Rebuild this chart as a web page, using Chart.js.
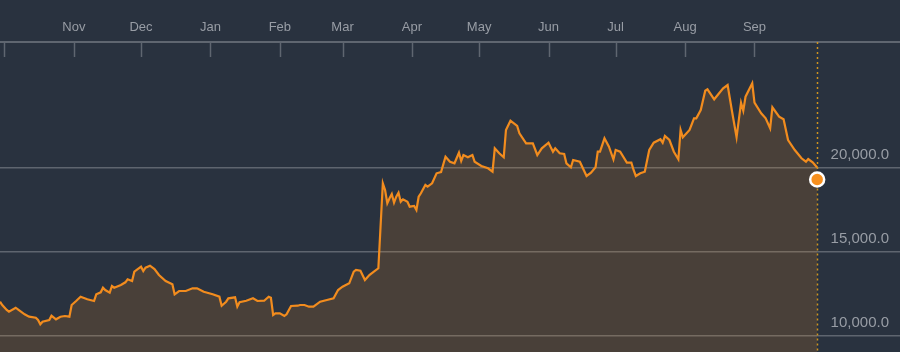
<!DOCTYPE html>
<html>
<head>
<meta charset="utf-8">
<script src="https://cdn.jsdelivr.net/npm/chart.js@4"></script>
<style>
    html, body { margin: 0; padding: 0; background: #29323f; }
    #wrap { width: 900px; height: 352px; position: relative; }
</style>
</head>
<body>
<div id="wrap"><canvas id="chart"></canvas></div>
<script>
// month ticks (days counted from 1 Nov)
const monthLabels = ['Oct', 'Nov', 'Dec', 'Jan', 'Feb', 'Mar', 'Apr', 'May', 'Jun', 'Jul', 'Aug', 'Sep'];
const monthStartDays = [-31, 0, 30, 61, 92, 120, 151, 181, 212, 242, 273, 304];

const yTickValues = [10000, 15000, 20000];

// price history
const dayIndex = [
    -33, -32, -30, -29, -26, -25, -22, -20, -17, -16, -15, -14, -11, -10, -8, -6, -4, -2, -1,
    1, 3, 6, 9, 10, 12, 13, 14, 16, 17, 18, 21, 23, 24, 26, 27, 30, 31, 32, 34, 36, 38,
    41, 44, 45, 47, 50, 53, 55, 58, 62, 65, 66, 68, 69, 72, 73, 74, 77, 80, 82, 85, 87, 88,
    89, 90, 92, 94, 95, 97, 100, 101, 103, 105, 107, 110, 113, 116, 118, 120, 123, 125, 126,
    128, 130, 132, 134, 136, 138, 139, 140, 141, 142, 143, 144, 145, 146, 147, 149, 150,
    152, 153, 154, 155, 157, 158, 160, 162, 164, 166, 168, 170, 172, 173, 174, 176, 178,
    179, 182, 185, 187, 188, 190, 192, 193, 195, 198, 199, 202, 205, 207, 209, 212, 214,
    215, 217, 219, 220, 222, 223, 226, 229, 231, 233, 234, 235, 237, 239, 241, 242, 244,
    247, 249, 250, 251, 253, 255, 257, 259, 262, 263, 264, 266, 268, 270, 271, 272, 275,
    277, 278, 280, 282, 283, 286, 290, 292, 294, 296, 298, 299, 300, 303, 304, 307, 309,
    311, 312, 315, 317, 319, 322, 325, 327, 328, 330, 332
];
const prices = [
    12012, 11815, 11518, 11417, 11655, 11559, 11262, 11119, 11060, 10923, 10667, 10821, 10923, 11179, 10964, 11119, 11161, 11119, 11815,
    12054, 12310, 12155, 12054, 12452, 12571, 12845, 12708, 12548, 12946, 12845, 13006, 13167, 13345, 13244, 13798, 14095, 13839, 14036, 14155, 13958, 13601,
    13244, 13048, 12452, 12649, 12649, 12810, 12810, 12607, 12452, 12310, 11774, 12012, 12214, 12274, 11714, 11976, 12071, 12214, 12054, 12071, 12310, 12250,
    11220, 11321, 11321, 11161, 11262, 11756, 11774, 11815, 11815, 11714, 11714, 12012, 12113, 12214, 12708, 12905, 13107, 13798, 13899,
    13857, 13304, 13601, 13798, 14000, 19060, 18661, 17869, 18167, 18423, 17905, 18262, 18500, 17964, 18107, 17964, 17667,
    17708, 17470, 18262, 18464, 18958, 18857, 19060, 19655, 19732, 20643, 20345, 20250, 20881, 20387, 20744, 20607, 20744,
    20345, 20089, 19952, 19750, 21143, 20845, 20607, 22232, 22786, 22470, 22036, 21440, 21440, 20744, 21143, 21476, 20940,
    21143, 20845, 20804, 20250, 20012, 20446, 20345, 19494, 19690, 20012, 20940, 20940, 21738, 21238, 20488, 21042, 20940,
    20286, 20286, 19851, 19494, 19655, 19750, 21042, 21476, 21679, 21476, 21875, 21637, 20940, 20488, 22232, 21798, 22232,
    22929, 22929, 23423, 24571, 24655, 24060, 24714, 24911, 23321, 21798, 23857, 23381, 24214, 25012, 23857, 23226, 22929,
    22333, 23583, 23024, 22869, 21637, 21042, 20548, 20345, 20506, 20310, 20000
];

const lastDay = 332;
const lastPrice = 19286;

const xMin = -33;
const xMax = 369;
const yMin = 9018;
const yMax = 27470;

const LINE_COLOR = '#f28c1e';
const TEXT_COLOR = '#989da5';
const AXIS_COLOR = '#5f6670';
const FONT = "'Liberation Sans', Arial, sans-serif";

// short tick marks hanging down from the top axis, plus the dotted "now" line
const axisDecor = {
    id: 'axisDecor',
    beforeDatasetsDraw(chart) {
        const { ctx, chartArea, scales } = chart;
        const xs = scales.x;
        ctx.save();
        ctx.strokeStyle = AXIS_COLOR;
        ctx.lineWidth = 1.5;
        xs.ticks.forEach(t => {
            const px = Math.round(xs.getPixelForValue(t.value)) + 0.5;
            ctx.beginPath();
            ctx.moveTo(px, chartArea.top);
            ctx.lineTo(px, chartArea.top + 15);
            ctx.stroke();
        });
        ctx.restore();
    },
    afterDatasetsDraw(chart) {
        const { ctx, chartArea, scales } = chart;
        const nx = Math.round(scales.x.getPixelForValue(lastDay)) + 0.5;
        const dotY = scales.y.getPixelForValue(lastPrice);
        ctx.save();
        ctx.strokeStyle = '#d0941f';
        ctx.lineWidth = 1.5;
        ctx.setLineDash([2, 3]);
        ctx.beginPath();
        ctx.moveTo(nx, chartArea.top);
        ctx.lineTo(nx, dotY - 9);
        ctx.moveTo(nx, dotY + 9);
        ctx.lineTo(nx, chartArea.bottom);
        ctx.stroke();
        ctx.restore();
    }
};

function formatPrice(v) {
    return v.toLocaleString('en-US', { minimumFractionDigits: 1, maximumFractionDigits: 1 });
}

// the chart area should fill the whole canvas width and run to the bottom edge
function noPadding(scale) {
    scale.paddingTop = 0;
    scale.paddingBottom = 0;
    scale.paddingLeft = 0;
    scale.paddingRight = 0;
}

const ctx = document.getElementById('chart');
new Chart(ctx, {
    type: 'line',
    data: {
        datasets: [
            {
                data: [{ x: lastDay, y: lastPrice }],
                showLine: false,
                pointRadius: 7,
                pointBorderWidth: 2.5,
                pointBackgroundColor: '#f7901e',
                pointBorderColor: '#ffffff',
                clip: false,
                order: 0
            },
            {
                data: dayIndex.map((d, i) => ({ x: d, y: prices[i] })),
                borderColor: LINE_COLOR,
                borderWidth: 2.2,
                backgroundColor: 'rgba(242, 140, 30, 0.16)',
                fill: 'start',
                tension: 0,
                pointRadius: 0,
                order: 1
            }
        ]
    },
    options: {
        responsive: true,
        maintainAspectRatio: false,
        animation: false,
        layout: { padding: 0, autoPadding: false },
        scales: {
            x: {
                type: 'linear',
                position: 'top',
                min: xMin,
                max: xMax,
                afterBuildTicks: scale => {
                    scale.ticks = monthStartDays.map(v => ({ value: v }));
                },
                afterFit: scale => {
                    scale.height = 42;
                    noPadding(scale);
                },
                grid: { display: false, drawTicks: false },
                border: { display: true, color: AXIS_COLOR, width: 2 },
                ticks: {
                    autoSkip: false,
                    maxRotation: 0,
                    padding: 7,
                    color: TEXT_COLOR,
                    font: { family: FONT, size: 13 },
                    callback: (value, index) => index === 0 ? '' : monthLabels[index]
                }
            },
            y: {
                type: 'linear',
                position: 'right',
                min: yMin,
                max: yMax,
                afterBuildTicks: scale => {
                    scale.ticks = yTickValues.map(v => ({ value: v }));
                },
                afterFit: scale => {
                    scale.width = 0;
                    noPadding(scale);
                },
                grid: { color: 'rgba(255, 255, 255, 0.25)', lineWidth: 1.5, drawTicks: false },
                border: { display: false },
                ticks: {
                    mirror: true,
                    padding: -11,
                    labelOffset: -12.5,
                    color: TEXT_COLOR,
                    font: { family: FONT, size: 15 },
                    callback: v => formatPrice(v)
                }
            }
        },
        plugins: {
            legend: { display: false },
            tooltip: { enabled: false }
        }
    },
    plugins: [axisDecor]
});
</script>
</body>
</html>
